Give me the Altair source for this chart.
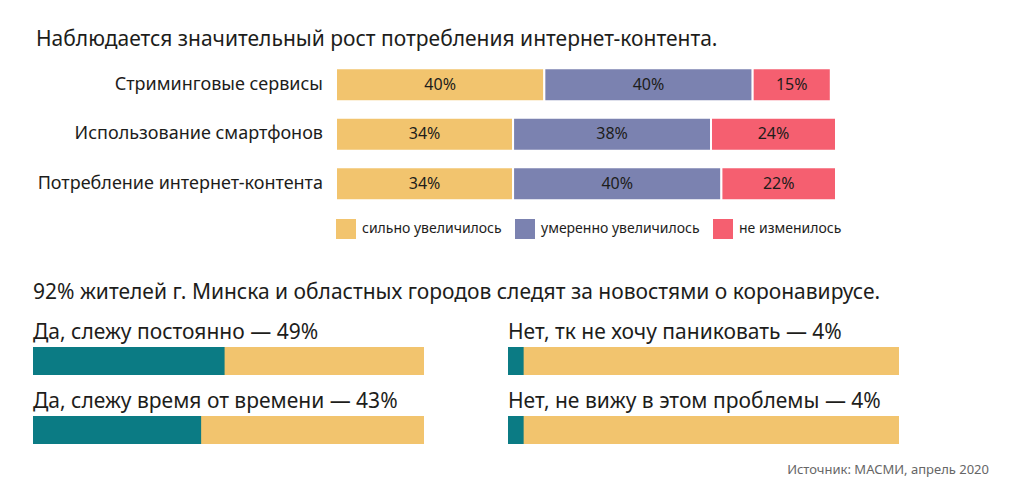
import altair as alt
import pandas as pd

# ---- data ----
categories = ["Стриминговые сервисы", "Использование смартфонов", "Потребление интернет-контента"]
responses = ["сильно увеличилось", "умеренно увеличилось", "не изменилось"]
strong = [40, 34, 34]
moderate = [40, 38, 40]
unchanged = [15, 24, 22]

panel_titles = [
    "Да, слежу постоянно — 49%",
    "Нет, тк не хочу паниковать — 4%",
    "Да, слежу время от времени —  43%",
    "Нет, не вижу в этом проблемы — 4%",
]
panel_values = [49, 4, 43, 4]

title_top = "Наблюдается значительный рост потребления интернет-контента."
title_bottom = "92% жителей г. Минска и областных городов следят за новостями о коронавирусе."
source_text = "Источник: МАСМИ, апрель 2020"

# ---- style ----
FONT = "Noto Sans"
TEXT = "#1d1d1b"
YELLOW = "#F2C46E"
PURPLE = "#7B82B0"
PINK = "#F55F70"
TEAL = "#0B7B84"
resp_colors = [YELLOW, PURPLE, PINK]

rows = []
for i, c in enumerate(categories):
    for j, (r, vals) in enumerate(zip(responses, [strong, moderate, unchanged])):
        rows.append({"category": c, "response": r, "order": j, "value": vals[i]})
df_top = pd.DataFrame(rows)
df_cat = pd.DataFrame({"category": categories})

labels = alt.Chart(df_cat).mark_text(
    align="right", baseline="middle", fontSize=18, font=FONT, color=TEXT
).encode(
    y=alt.Y("category:N", sort=categories, axis=None),
    x=alt.value(290),
    text="category:N",
).properties(width=290, height=148.5)

ybar = alt.Y("category:N", sort=categories, axis=None,
             scale=alt.Scale(paddingInner=0.33, paddingOuter=0.165))
xscale = alt.Scale(domain=[0, 96], nice=False, zero=True)

base = alt.Chart(df_top).transform_window(
    cum="sum(value)", groupby=["category"], sort=[alt.SortField("order")], frame=[None, 0]
).transform_calculate(
    start="datum.cum - datum.value",
    mid="datum.cum - datum.value / 2",
    label="datum.value + '%'",
)

bars = base.mark_rect(stroke="white", strokeWidth=2).encode(
    y=ybar,
    x=alt.X("start:Q", scale=xscale, axis=None),
    x2="cum:Q",
    color=alt.Color(
        "response:N",
        scale=alt.Scale(domain=responses, range=resp_colors),
        legend=alt.Legend(
            title=None, orient="none", legendX=0, legendY=159, direction="horizontal",
            symbolType="square", symbolSize=400, symbolStrokeWidth=0,
            labelFontSize=14, labelFont=FONT, labelColor=TEXT, labelOffset=6,
            columnPadding=13, padding=0,
        ),
    ),
)

bar_text = base.mark_text(fontSize=16, font=FONT, color=TEXT, baseline="middle").encode(
    y=ybar,
    x=alt.X("mid:Q", scale=xscale, axis=None),
    text="label:N",
)

bars_chart = alt.layer(bars, bar_text).properties(width=500, height=148.5)

top = alt.hconcat(labels, bars_chart, spacing=12).resolve_scale(
    color="independent"
).properties(
    title=alt.TitleParams(title_top, anchor="start", fontSize=21, font=FONT, color=TEXT,
                          fontWeight="normal", dx=3, offset=10)
)

df_panels = pd.DataFrame({
    "title": panel_titles,
    "value": panel_values,
    "total": [100] * len(panel_values),
    "zero": [0] * len(panel_values),
})
xb = alt.Scale(domain=[0, 100], nice=False)
bg = alt.Chart().mark_rect(color=YELLOW).encode(
    x=alt.X("zero:Q", scale=xb, axis=None), x2="total:Q")
fg = alt.Chart().mark_rect(color=TEAL).encode(
    x=alt.X("zero:Q", scale=xb, axis=None), x2="value:Q")

panels = alt.layer(bg, fg, data=df_panels).properties(width=391, height=28).facet(
    facet=alt.Facet("title:N", sort=panel_titles,
                    header=alt.Header(title=None, labelFontSize=21, labelFont=FONT,
                                      labelColor=TEXT, labelAnchor="start",
                                      labelAlign="left", labelPadding=4)),
    columns=2,
    spacing={"row": 16, "column": 84},
).properties(
    title=alt.TitleParams(title_bottom, anchor="start", fontSize=21, font=FONT, color=TEXT,
                          fontWeight="normal", offset=19)
)

chart = alt.vconcat(top, panels, spacing=43).resolve_scale(color="independent").properties(
    padding={"left": 25, "top": 21, "right": 10, "bottom": 10},
    title=alt.TitleParams(source_text, orient="bottom", anchor="end", fontSize=13,
                          font=FONT, color="#666666", fontWeight="normal", dx=90, offset=20),
).configure(background="white", font=FONT).configure_view(strokeWidth=0, stroke="transparent")

chart.save("out.html", embed_options={"renderer": "svg", "actions": False})
